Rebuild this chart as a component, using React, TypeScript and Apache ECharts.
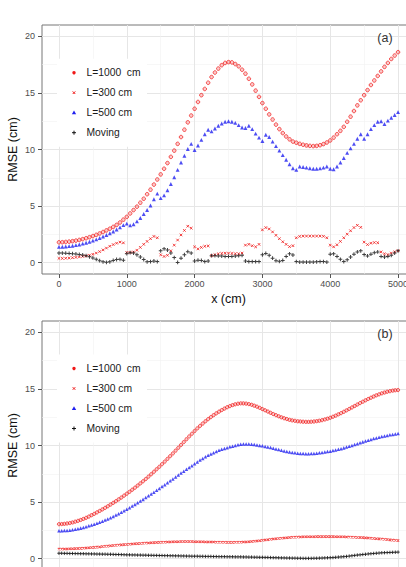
import React, { useEffect, useRef } from "react";
import * as echarts from "echarts";

// Sampling step along x (cm) for the two panels
const X_STEP_A = 50;
const X_STEP_B = 40;

const SERIES_NAMES = ["L=1000  cm", "L=300 cm", "L=500 cm", "Moving"];
const PANEL_TAGS = ["(a)", "(b)"];
const X_TICKS = [0, 1000, 2000, 3000, 4000, 5000];
const X_MINOR = [500, 1500, 2500, 3500, 4500];
const Y_TICKS = [0, 5, 10, 15, 20];
const Y_MINOR = [2.5, 7.5, 12.5, 17.5];
const X_TITLE = "x (cm)";
const Y_TITLE = "RMSE (cm)";

// Panel (a): RMSE every 50 cm
const a_L1000 = [
  1.80, 1.81, 1.83, 1.86, 1.90, 1.95, 2.01, 2.08, 2.16, 2.25, 2.35, 2.46, 2.58, 2.71, 2.85, 3.00, 3.16, 3.34, 3.55, 3.80,
  4.05, 4.35, 4.65, 4.95, 5.30, 5.65, 6.05, 6.45, 6.90, 7.35, 7.80, 8.30, 8.80, 9.35, 9.90, 10.50, 11.10, 11.75, 12.40, 13.00,
  13.60, 14.20, 14.80, 15.35, 15.90, 16.40, 16.80, 17.15, 17.45, 17.65, 17.72, 17.70, 17.55, 17.35, 17.05, 16.70, 16.25, 15.75, 15.20, 14.65,
  14.10, 13.60, 13.10, 12.65, 12.20, 11.80, 11.45, 11.15, 10.90, 10.70, 10.60, 10.50, 10.42, 10.36, 10.32, 10.30, 10.32, 10.38, 10.48, 10.62,
  10.80, 11.05, 11.35, 11.65, 12.00, 12.45, 12.90, 13.40, 13.90, 14.35, 14.80, 15.25, 15.70, 16.10, 16.50, 16.90, 17.30, 17.65, 18.00, 18.30,
  18.60,
];
const a_L300 = [
  0.38, 0.38, 0.39, 0.41, 0.44, 0.47, 0.51, 0.55, 0.60, 0.66, 0.74, 0.85, 0.98, 1.13, 1.29, 1.45, 1.60, 1.72, 1.82, 1.75,
  0.90, 0.90, 0.95, 1.10, 1.35, 1.62, 1.88, 2.12, 2.32, 2.20, 0.70, 0.55, 0.65, 1.05, 1.55, 2.00, 2.45, 2.85, 3.22, 3.05,
  1.40, 1.22, 1.35, 1.45, 1.48, 0.62, 0.70, 0.78, 0.82, 0.84, 0.84, 0.82, 0.80, 0.78, 0.85, 1.55, 1.62, 1.50, 1.40, 1.62,
  2.90, 3.10, 2.98, 2.72, 2.42, 2.12, 1.85, 1.62, 1.42, 1.50, 2.20, 2.32, 2.35, 2.35, 2.35, 2.35, 2.35, 2.35, 2.33, 2.20,
  1.55, 1.40, 1.58, 1.88, 2.20, 2.52, 2.82, 3.10, 3.30, 3.12, 1.82, 1.60, 1.72, 1.78, 1.76, 0.95, 0.78, 0.72, 0.85, 0.95,
  1.05,
];
const a_L500 = [
  1.40, 1.41, 1.43, 1.46, 1.50, 1.55, 1.61, 1.68, 1.76, 1.85, 1.95, 2.06, 2.18, 2.31, 2.45, 2.60, 2.76, 2.93, 3.12, 3.32,
  3.45, 3.30, 3.40, 3.65, 3.95, 4.30, 4.65, 5.05, 5.60, 6.10, 5.70, 5.95, 6.40, 6.95, 7.55, 8.20, 8.85, 9.45, 10.05, 10.50,
  9.95, 10.35, 10.85, 11.35, 11.75, 11.60, 11.85, 12.10, 12.30, 12.45, 12.50, 12.45, 12.35, 12.15, 11.95, 11.90, 12.10, 11.80, 11.40, 11.05,
  10.75, 11.30, 11.10, 10.70, 10.30, 9.90, 9.50, 9.10, 8.70, 8.35, 8.20, 8.50, 8.45, 8.40, 8.35, 8.30, 8.30, 8.33, 8.40, 8.50,
  8.30, 8.25, 8.50, 8.85, 9.25, 9.70, 10.10, 10.50, 10.95, 11.35, 10.95, 11.35, 11.80, 12.15, 12.45, 12.50, 12.25, 12.55, 12.80, 13.05,
  13.30,
];
const a_Moving = [
  0.85, 0.85, 0.84, 0.82, 0.80, 0.77, 0.73, 0.68, 0.62, 0.52, 0.42, 0.30, 0.18, 0.08, 0.03, 0.08, 0.20, 0.28, 0.30, 0.22,
  0.80, 0.88, 0.85, 0.70, 0.50, 0.28, 0.08, 0.10, 0.15, 0.10, 1.05, 1.22, 1.12, 0.85, 0.45, 0.02, 0.40, 0.70, 0.97, 0.85,
  0.15, 0.22, 0.20, 0.10, 0.15, 0.62, 0.62, 0.60, 0.58, 0.55, 0.55, 0.55, 0.58, 0.62, 0.65, 0.15, 0.10, 0.10, 0.10, 0.10,
  0.70, 0.82, 0.65, 0.40, 0.18, 0.12, 0.20, 0.55, 0.78, 0.68, 0.10, 0.05, 0.05, 0.05, 0.05, 0.05, 0.08, 0.10, 0.10, 0.05,
  0.75, 0.78, 0.55, 0.30, 0.10, 0.25, 0.50, 0.75, 0.95, 1.05, 0.72, 0.60, 0.75, 0.88, 0.95, 0.55, 0.50, 0.55, 0.65, 0.85,
  1.05,
];

// Panel (b): RMSE every 40 cm
const b_L1000 = [
  3.05, 3.06, 3.08, 3.11, 3.15, 3.20, 3.27, 3.34, 3.42, 3.51, 3.61, 3.72, 3.84, 3.96, 4.09, 4.22, 4.35, 4.49, 4.63, 4.78, 4.93, 5.08, 5.24, 5.40, 5.57,
  5.74, 5.91, 6.09, 6.27, 6.46, 6.65, 6.84, 7.04, 7.25, 7.46, 7.68, 7.90, 8.12, 8.35, 8.58, 8.82, 9.06, 9.30, 9.55, 9.80, 10.05, 10.30, 10.55, 10.80, 11.04,
  11.28, 11.51, 11.73, 11.94, 12.14, 12.33, 12.51, 12.68, 12.84, 12.99, 13.13, 13.26, 13.38, 13.48, 13.57, 13.64, 13.69, 13.72, 13.72, 13.70, 13.66, 13.60, 13.52, 13.43, 13.33,
  13.22, 13.11, 13.00, 12.89, 12.78, 12.68, 12.58, 12.49, 12.41, 12.34, 12.27, 12.22, 12.18, 12.14, 12.12, 12.10, 12.09, 12.09, 12.10, 12.12, 12.15, 12.19, 12.24, 12.30, 12.37,
  12.45, 12.54, 12.64, 12.75, 12.86, 12.98, 13.10, 13.23, 13.36, 13.49, 13.62, 13.75, 13.87, 13.99, 14.11, 14.22, 14.33, 14.43, 14.52, 14.61, 14.68, 14.75, 14.80, 14.85, 14.88,
  14.90,
];
const b_L300 = [
  0.85, 0.85, 0.86, 0.86, 0.87, 0.88, 0.89, 0.90, 0.91, 0.93, 0.94, 0.96, 0.98, 1.00, 1.02, 1.04, 1.07, 1.09, 1.11, 1.14, 1.16, 1.18, 1.20, 1.22, 1.24,
  1.26, 1.28, 1.30, 1.32, 1.33, 1.35, 1.36, 1.38, 1.39, 1.41, 1.42, 1.43, 1.44, 1.45, 1.46, 1.47, 1.48, 1.49, 1.50, 1.50, 1.51, 1.51, 1.51, 1.51, 1.51,
  1.50, 1.50, 1.49, 1.49, 1.48, 1.48, 1.47, 1.47, 1.46, 1.46, 1.45, 1.45, 1.44, 1.44, 1.44, 1.45, 1.45, 1.46, 1.47, 1.48, 1.50, 1.52, 1.54, 1.56, 1.59,
  1.62, 1.65, 1.68, 1.71, 1.74, 1.76, 1.79, 1.81, 1.83, 1.85, 1.87, 1.89, 1.90, 1.91, 1.92, 1.93, 1.93, 1.94, 1.94, 1.94, 1.95, 1.95, 1.95, 1.95, 1.95,
  1.95, 1.95, 1.94, 1.94, 1.93, 1.93, 1.92, 1.91, 1.90, 1.89, 1.88, 1.87, 1.86, 1.84, 1.83, 1.81, 1.79, 1.77, 1.75, 1.73, 1.71, 1.69, 1.66, 1.64, 1.62,
  1.60,
];
const b_L500 = [
  2.47, 2.47, 2.48, 2.50, 2.52, 2.55, 2.59, 2.64, 2.70, 2.76, 2.83, 2.90, 2.97, 3.05, 3.13, 3.22, 3.31, 3.41, 3.51, 3.62, 3.73, 3.85, 3.97, 4.10, 4.23,
  4.37, 4.51, 4.65, 4.79, 4.94, 5.09, 5.24, 5.40, 5.56, 5.72, 5.88, 6.04, 6.20, 6.37, 6.54, 6.71, 6.88, 7.05, 7.22, 7.39, 7.56, 7.73, 7.90, 8.06, 8.22,
  8.38, 8.55, 8.71, 8.86, 9.00, 9.13, 9.25, 9.36, 9.47, 9.57, 9.66, 9.74, 9.81, 9.88, 9.94, 9.99, 10.06, 10.10, 10.13, 10.14, 10.14, 10.12, 10.09, 10.05, 10.01,
  9.97, 9.92, 9.87, 9.82, 9.76, 9.70, 9.64, 9.58, 9.52, 9.47, 9.42, 9.38, 9.35, 9.32, 9.30, 9.29, 9.28, 9.28, 9.29, 9.30, 9.32, 9.35, 9.38, 9.42, 9.46,
  9.50, 9.55, 9.60, 9.66, 9.72, 9.79, 9.86, 9.93, 10.00, 10.08, 10.16, 10.24, 10.32, 10.40, 10.47, 10.54, 10.61, 10.67, 10.73, 10.79, 10.84, 10.89, 10.94, 10.98, 11.02,
  11.05,
];
const b_Moving = [
  0.48, 0.48, 0.47, 0.47, 0.46, 0.46, 0.45, 0.45, 0.44, 0.44, 0.43, 0.43, 0.42, 0.42, 0.41, 0.41, 0.40, 0.40, 0.39, 0.39, 0.38, 0.37, 0.37, 0.36, 0.35,
  0.34, 0.34, 0.33, 0.33, 0.32, 0.32, 0.31, 0.31, 0.30, 0.30, 0.29, 0.29, 0.28, 0.28, 0.27, 0.27, 0.26, 0.26, 0.25, 0.25, 0.24, 0.24, 0.23, 0.23, 0.22,
  0.22, 0.22, 0.21, 0.21, 0.20, 0.20, 0.20, 0.19, 0.19, 0.18, 0.18, 0.18, 0.17, 0.17, 0.17, 0.16, 0.16, 0.16, 0.15, 0.15, 0.14, 0.14, 0.13, 0.13, 0.12,
  0.12, 0.11, 0.11, 0.10, 0.09, 0.09, 0.08, 0.07, 0.07, 0.06, 0.06, 0.05, 0.05, 0.04, 0.04, 0.03, 0.03, 0.03, 0.03, 0.04, 0.04, 0.05, 0.06, 0.07, 0.08,
  0.09, 0.10, 0.12, 0.14, 0.16, 0.18, 0.20, 0.23, 0.26, 0.29, 0.32, 0.34, 0.37, 0.39, 0.42, 0.44, 0.46, 0.48, 0.50, 0.52, 0.53, 0.54, 0.55, 0.56, 0.57,
  0.58,
];

const FONT = "'Liberation Sans', Arial, Helvetica, sans-serif";
const RED = "#f01818";
const BLUE = "#2020f0";
const BLACK = "#111111";
const SYM_X = "path://M0,0L10,10M10,0L0,10";
const SYM_PLUS = "path://M5,0L5,10M0,5L10,5";

const toPoints = (vals: number[], step: number) => vals.map((v, i) => [i * step, v]);

const GRID_TOPS = [25, 321];
const GRID_LEFT = 42;
const GRID_W = 373;
const GRID_H = 249;

function buildAxes(panel: number) {
  const g = panel;
  const plain = (v: number) => String(v);
  const xMajor = {
    gridIndex: g,
    type: "value",
    min: -250,
    max: 5250,
    position: "bottom",
    axisLine: { show: false, onZero: false },
    axisTick: { show: true, customValues: X_TICKS, length: 4, lineStyle: { color: "#555", width: 1 } },
    axisLabel: {
      show: panel === 0,
      customValues: X_TICKS,
      formatter: plain,
      margin: 5,
      color: "#4d4d4d",
      fontSize: 9,
      fontFamily: FONT,
    },
    splitLine: { show: true, lineStyle: { color: "#e6e6e6", width: 1 } },
    name: panel === 0 ? X_TITLE : "",
    nameLocation: "middle",
    nameGap: 18,
    nameMoveOverlap: false,
    nameTextStyle: { color: "#111", fontSize: 12.5, fontFamily: FONT },
  };
  const xMinor = {
    gridIndex: g,
    type: "value",
    min: -250,
    max: 5250,
    position: "top",
    axisLine: { show: false },
    axisTick: { show: false, customValues: X_MINOR },
    axisLabel: { show: false, customValues: X_MINOR },
    splitLine: { show: true, lineStyle: { color: "#f2f2f2", width: 0.6 } },
  };
  const yMajor = {
    gridIndex: g,
    type: "value",
    min: -1,
    max: 21,
    position: "left",
    axisLine: { show: false, onZero: false },
    axisTick: { show: true, customValues: Y_TICKS, length: 4, lineStyle: { color: "#555", width: 1 } },
    axisLabel: {
      show: true,
      customValues: Y_TICKS,
      formatter: plain,
      margin: 7,
      color: "#4d4d4d",
      fontSize: 9,
      fontFamily: FONT,
    },
    splitLine: { show: true, lineStyle: { color: "#e6e6e6", width: 1 } },
    name: Y_TITLE,
    nameLocation: "middle",
    nameGap: 23,
    nameRotate: 90,
    nameMoveOverlap: false,
    nameTextStyle: { color: "#111", fontSize: 12.5, fontFamily: FONT },
  };
  const yMinor = {
    gridIndex: g,
    type: "value",
    min: -1,
    max: 21,
    position: "right",
    axisLine: { show: false },
    axisTick: { show: false, customValues: Y_MINOR },
    axisLabel: { show: false, customValues: Y_MINOR },
    splitLine: { show: true, lineStyle: { color: "#f2f2f2", width: 0.6 } },
  };
  return { xs: [xMajor, xMinor], ys: [yMajor, yMinor] };
}

function buildSeries(panel: number, sets: number[][], step: number, big: boolean) {
  const axisIdx = panel * 2;
  const k = big ? 1 : 0.9;
  const styles = [
    { symbol: "circle", symbolSize: 3.6 * k, itemStyle: { color: "rgba(240,40,40,0.3)", borderColor: RED, borderWidth: 0.9 } },
    { symbol: SYM_X, symbolSize: 2.6 * k, itemStyle: { color: RED, borderColor: RED, borderWidth: 1 } },
    { symbol: "triangle", symbolSize: 3.9 * k, itemStyle: { color: BLUE } },
    { symbol: SYM_PLUS, symbolSize: 3.8 * k, itemStyle: { color: BLACK, borderColor: BLACK, borderWidth: 1 } },
  ];
  return sets.map((vals, i) => ({
    type: "scatter",
    name: SERIES_NAMES[i],
    xAxisIndex: axisIdx,
    yAxisIndex: axisIdx,
    data: toPoints(vals, step),
    ...styles[i],
    emphasis: { disabled: true },
    z: 3 + i,
  }));
}

// Legend box with keys and labels, drawn on top of the panel grid
function legendGraphics(top: number) {
  const mx = 74;
  const tx = 86.5;
  const rows = [0, 20, 40, 60].map((d) => top + d);
  const Z = 50;
  const els: any[] = [];
  els.push({ type: "rect", z: Z, shape: { x: 57, y: top - 14, width: 90, height: 88 }, style: { fill: "#ffffff" } });
  els.push({ type: "circle", z: Z + 1, shape: { cx: mx, cy: rows[0], r: 1.7 }, style: { fill: RED } });
  els.push({ type: "line", z: Z + 1, shape: { x1: mx - 1.3, y1: rows[1] - 1.3, x2: mx + 1.3, y2: rows[1] + 1.3 }, style: { stroke: RED, lineWidth: 1 } });
  els.push({ type: "line", z: Z + 1, shape: { x1: mx + 1.3, y1: rows[1] - 1.3, x2: mx - 1.3, y2: rows[1] + 1.3 }, style: { stroke: RED, lineWidth: 1 } });
  els.push({ type: "polygon", z: Z + 1, shape: { points: [[mx, rows[2] - 2.2], [mx + 2.2, rows[2] + 1.6], [mx - 2.2, rows[2] + 1.6]] }, style: { fill: BLUE } });
  els.push({ type: "line", z: Z + 1, shape: { x1: mx - 2, y1: rows[3], x2: mx + 2, y2: rows[3] }, style: { stroke: BLACK, lineWidth: 1 } });
  els.push({ type: "line", z: Z + 1, shape: { x1: mx, y1: rows[3] - 2, x2: mx, y2: rows[3] + 2 }, style: { stroke: BLACK, lineWidth: 1 } });
  SERIES_NAMES.forEach((name, i) => {
    els.push({
      type: "text",
      z: Z + 1,
      x: tx,
      y: rows[i],
      style: { text: name, fill: "#1a1a1a", fontSize: 10.3, fontFamily: FONT, align: "left", verticalAlign: "middle" },
    });
  });
  return els;
}

export default function App() {
  const ref = useRef<HTMLDivElement>(null);

  useEffect(() => {
    if (!ref.current) return;
    const chart = echarts.init(ref.current, null, { renderer: "svg" });
    const a = buildAxes(0);
    const b = buildAxes(1);
    const option: any = {
      animation: false,
      backgroundColor: "#ffffff",
      grid: GRID_TOPS.map((t) => ({
        left: GRID_LEFT,
        top: t,
        width: GRID_W,
        height: GRID_H,
        show: true,
        backgroundColor: "#ffffff",
        borderColor: "#777777",
        borderWidth: 1,
        containLabel: false,
        outerBoundsMode: "none",
      })),
      xAxis: [...a.xs, ...b.xs],
      yAxis: [...a.ys, ...b.ys],
      series: [
        ...buildSeries(0, [a_L1000, a_L300, a_L500, a_Moving], X_STEP_A, true),
        ...buildSeries(1, [b_L1000, b_L300, b_L500, b_Moving], X_STEP_B, false),
      ],
      graphic: [
        ...legendGraphics(72.7),
        ...legendGraphics(368.5),
        {
          type: "text",
          z: 50,
          x: 385,
          y: 38,
          style: { text: PANEL_TAGS[0], fill: "#333", fontSize: 12.5, fontFamily: FONT, align: "center", verticalAlign: "middle" },
        },
        {
          type: "text",
          z: 50,
          x: 385,
          y: 334,
          style: { text: PANEL_TAGS[1], fill: "#333", fontSize: 12.5, fontFamily: FONT, align: "center", verticalAlign: "middle" },
        },
      ],
    };
    chart.setOption(option);
    return () => chart.dispose();
  }, []);

  return (
    <div
      ref={ref}
      style={{ position: "fixed", left: 0, top: 0, width: 406, height: 567, background: "#fff" }}
    />
  );
}
